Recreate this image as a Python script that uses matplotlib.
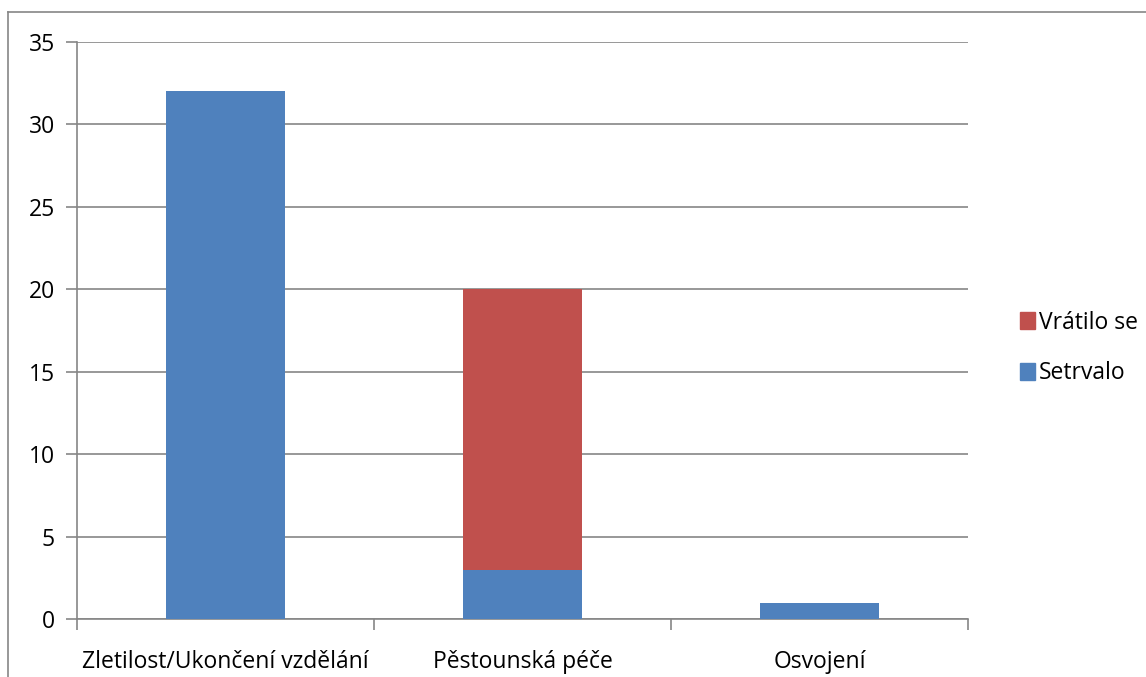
import matplotlib
matplotlib.use("Agg")
import matplotlib.pyplot as plt
from matplotlib.lines import Line2D
from matplotlib.patches import Patch

# data
categories = ["Zletilost/Ukončení vzdělání", "Pěstounská péče", "Osvojení"]
setrvalo = [32, 3, 1]
vratilo_se = [0, 17, 0]

BLUE = "#4F81BD"
RED = "#C0504D"
GRID = "#868686"
FS = 16.5

plt.rcParams["font.family"] = ["Open Sans", "DejaVu Sans"]

W, H = 1146, 677
fig = plt.figure(figsize=(W / 100, H / 100), dpi=100)

# outer chart frame (cut off at right and bottom in the reference)
fig.add_artist(Line2D([7.5 / W, 7.5 / W], [0, 1 - 12 / H], transform=fig.transFigure,
                      color=GRID, lw=1.2))
fig.add_artist(Line2D([7.5 / W, 1], [1 - 12 / H, 1 - 12 / H], transform=fig.transFigure,
                      color=GRID, lw=1.2))

left, right, top, bottom = 77, 968, 42, 619
ax = fig.add_axes([left / W, 1 - bottom / H, (right - left) / W, (bottom - top) / H])

x = list(range(len(categories)))
ax.bar(x, setrvalo, width=0.4, color=BLUE, zorder=3)
ax.bar(x, vratilo_se, width=0.4, bottom=setrvalo, color=RED, zorder=3)

ax.set_xlim(-0.5, len(categories) - 0.5)
ax.set_ylim(0, 35)
ax.set_yticks(range(0, 36, 5))
ax.yaxis.grid(True, color=GRID, lw=1.2, zorder=0)
ax.set_xticks(x)
ax.set_xticklabels(categories)
ax.tick_params(axis="x", length=0, pad=22, labelsize=FS)
ax.tick_params(axis="y", length=8, width=1.2, color=GRID, pad=8, labelsize=FS)
# category boundary ticks
ax.set_xticks([i - 0.5 for i in range(len(categories) + 1)], minor=True)
ax.tick_params(axis="x", which="minor", length=8, width=1.2, color=GRID)

for s in ["top", "right"]:
    ax.spines[s].set_visible(False)
for s in ["left", "bottom"]:
    ax.spines[s].set_color(GRID)
    ax.spines[s].set_linewidth(1.2)

handles = [Patch(color=RED, label="Vrátilo se"), Patch(color=BLUE, label="Setrvalo")]
fig.legend(handles=handles, loc="center left", bbox_to_anchor=(1009 / W, 1 - 348 / H),
           frameon=False, fontsize=FS, handlelength=0.65, handleheight=0.75,
           handletextpad=0.15, labelspacing=1.15, borderpad=0)

fig.savefig("out.png", dpi=100)
